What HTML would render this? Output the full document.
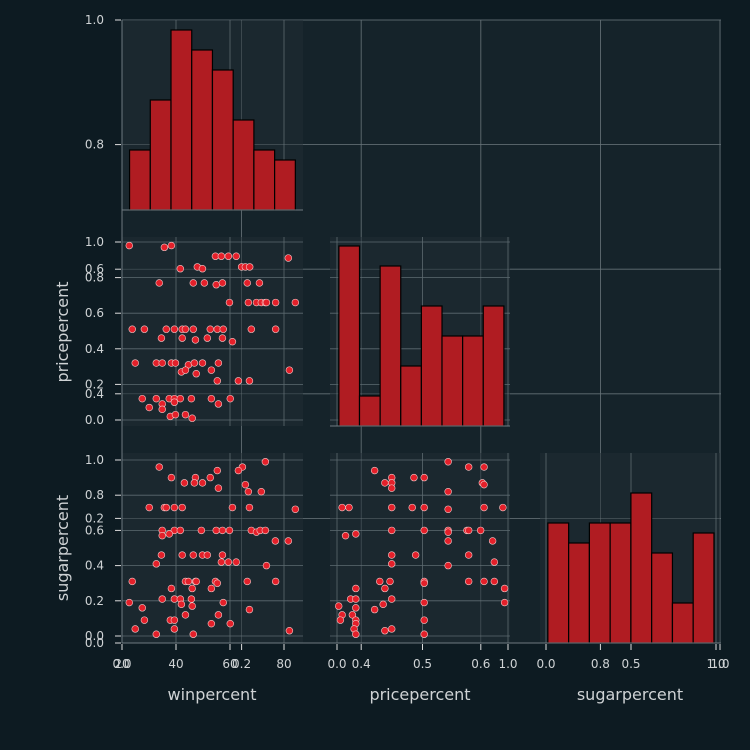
<!DOCTYPE html>
<html><head><meta charset="utf-8"><style>
body{margin:0;background:#0d1b22;}
svg{display:block;font-family:"DejaVu Sans","Liberation Sans",sans-serif;}
</style></head><body>
<svg id="c" width="750" height="750" xmlns="http://www.w3.org/2000/svg"></svg>
<script>
// ---- data ----
const histWinCounts=[6,11,18,16,14,9,6,5];
const histWinRange=[22.8,84.2];
const histPriceCounts=[18,3,16,6,12,9,9,12];
const histPriceRange=[0.011,0.976];
const histSugarCounts=[12,10,12,12,15,9,4,11];
const histSugarRange=[0.011,0.988];

const s10Win=[22.7,35.7,38.3,54.6,56.8,59.4,62.3,81.6,41.6,47.9,49.8,64.3,65.7,67.3,33.8,46.4,50.5,54.9,57.2,66.4,70.9,59.8,66.8,69.8,71.6,73.1,73.5,76.9,84.2,23.8,28.3,36.4,39.4,42.3,43.5,46.4,52.7,55.3,57.5,67.9,76.9,34.6,42.3,47.2,51.6,57.2,60.9,24.9,32.7,34.9,38.3,39.8,44.6,46.8,49.8,55.7,42.0,43.5,47.5,53.1,82.0,55.3,63.1,67.2,27.5,32.7,34.9,34.9,30.1,37.5,39.4,39.4,41.6,45.7,53.1,55.7,60.1,37.9,39.8,43.5,46.0];
const s10Price=[0.98,0.97,0.98,0.92,0.92,0.92,0.92,0.91,0.85,0.86,0.85,0.86,0.86,0.86,0.77,0.77,0.77,0.76,0.77,0.77,0.77,0.66,0.66,0.66,0.66,0.66,0.66,0.66,0.66,0.51,0.51,0.51,0.51,0.51,0.51,0.51,0.51,0.51,0.51,0.51,0.51,0.46,0.46,0.45,0.46,0.46,0.44,0.32,0.32,0.32,0.32,0.32,0.31,0.32,0.32,0.32,0.27,0.28,0.26,0.28,0.28,0.22,0.22,0.22,0.12,0.12,0.09,0.06,0.07,0.12,0.12,0.10,0.12,0.12,0.12,0.09,0.12,0.02,0.03,0.03,0.01];

const s20Win=[33.8,73.1,64.6,63.1,55.3,38.3,47.2,52.7,43.1,46.8,49.8,55.7,65.7,66.8,71.6,30.1,35.7,36.4,39.4,42.3,60.9,67.2,84.2,34.9,39.4,41.6,49.4,54.9,57.2,59.8,67.9,69.8,71.2,73.1,34.9,37.5,76.8,81.6,34.6,42.3,46.4,49.8,51.6,57.2,56.8,59.4,62.3,32.7,73.5,23.8,38.3,43.5,44.6,47.2,47.5,54.6,55.3,66.4,76.9,46.0,53.1,34.9,39.4,41.6,45.7,42.0,46.0,22.7,27.5,57.5,28.3,37.9,39.4,43.5,55.7,67.2,24.9,39.4,53.1,60.1,32.7,46.4,82.0];
const s20Sugar=[0.96,0.99,0.96,0.94,0.94,0.90,0.90,0.90,0.87,0.87,0.87,0.84,0.86,0.82,0.82,0.73,0.73,0.73,0.73,0.73,0.73,0.73,0.72,0.60,0.60,0.60,0.60,0.60,0.60,0.60,0.60,0.59,0.60,0.60,0.57,0.58,0.54,0.54,0.46,0.46,0.46,0.46,0.46,0.46,0.42,0.42,0.42,0.41,0.40,0.31,0.27,0.31,0.31,0.31,0.31,0.31,0.30,0.31,0.31,0.27,0.27,0.21,0.21,0.21,0.21,0.18,0.17,0.19,0.16,0.19,0.09,0.09,0.09,0.12,0.12,0.15,0.04,0.04,0.07,0.07,0.01,0.01,0.03];

const s21Price=[0.65,0.77,0.86,0.22,0.32,0.45,0.51,0.28,0.32,0.32,0.85,0.86,0.65,0.03,0.07,0.32,0.44,0.51,0.65,0.86,0.97,0.32,0.51,0.65,0.65,0.76,0.77,0.84,0.05,0.11,0.65,0.91,0.32,0.46,0.77,0.32,0.65,0.92,0.25,0.31,0.51,0.51,0.77,0.86,0.92,0.11,0.28,0.98,0.08,0.11,0.32,0.01,0.11,0.27,0.51,0.98,0.03,0.09,0.22,0.02,0.11,0.11,0.10,0.28,0.32,0.11,0.51,0.51];
const s21Sugar=[0.99,0.96,0.96,0.94,0.90,0.90,0.90,0.87,0.87,0.84,0.87,0.86,0.82,0.73,0.73,0.73,0.73,0.73,0.72,0.73,0.73,0.60,0.60,0.60,0.59,0.60,0.60,0.60,0.57,0.58,0.54,0.54,0.46,0.46,0.46,0.41,0.40,0.42,0.31,0.31,0.31,0.30,0.31,0.31,0.31,0.27,0.27,0.27,0.21,0.21,0.21,0.17,0.16,0.18,0.19,0.19,0.12,0.12,0.15,0.09,0.09,0.07,0.04,0.03,0.04,0.01,0.09,0.01];

const bgTicks=["0.0","0.2","0.4","0.6","0.8","1.0"];
const winTicks=[20,40,60,80];
const unitTicks=[0.0,0.2,0.4,0.6,0.8,1.0];
const xUnitTicks=[0.0,0.5,1.0];

// ---- drawing ----
const svg=document.getElementById('c');
const NS='http://www.w3.org/2000/svg';
function mk(tag,attrs,parent){const e=document.createElementNS(NS,tag);for(const k in attrs)e.setAttribute(k,attrs[k]);(parent||svg).appendChild(e);return e;}
const GRID='#5d6a70',TXT='#cfd3d5';

const winX=v=>122+(v-20)*2.7;
const priceX=v=>337+v*171;
const sugarX=v=>546+v*170;
const priceY=v=>420-v*178;
const sugarY=v=>636-v*176;
const bgX=v=>122+v*598;
const bgY=v=>643-v*623;

const bg=mk('rect',{x:122,y:20,width:599,height:623,fill:'#15232a'});


bgTicks.forEach((t,i)=>{
  const v=i/5;
  const gx=mk('line',{x1:bgX(v),x2:bgX(v),y1:20,y2:643,stroke:GRID,'stroke-width':0.8});
  
  
  const gy=mk('line',{x1:122,x2:721,y1:bgY(v),y2:bgY(v),stroke:GRID,'stroke-width':0.8});
  
  
});

const cols=[[122,303],[330,510],[540,720]];
const rows=[[20,210],[237,426],[453,643]];
function panel(c,r,name){
  const p=mk('rect',{x:cols[c][0],y:rows[r][0],width:cols[c][1]-cols[c][0],height:rows[r][1]-rows[r][0],fill:'#1b282f'});
  
  
}
panel(0,0,'hist-winpercent-axes');panel(0,1,'scatter-win-price-axes');panel(0,2,'scatter-win-sugar-axes');
panel(1,1,'hist-pricepercent-axes');panel(1,2,'scatter-price-sugar-axes');panel(2,2,'hist-sugarpercent-axes');

function vgrid(xs,r){xs.forEach(x=>{const l=mk('line',{x1:x,x2:x,y1:rows[r][0],y2:rows[r][1],stroke:GRID,'stroke-width':0.8});});}
function hgrid(ys,c){ys.forEach(y=>{const l=mk('line',{x1:cols[c][0],x2:cols[c][1],y1:y,y2:y,stroke:GRID,'stroke-width':0.8});});}
for(let r=0;r<3;r++)vgrid(winTicks.map(winX),r);
vgrid(xUnitTicks.map(priceX),1);vgrid(xUnitTicks.map(priceX),2);
vgrid(xUnitTicks.map(sugarX),2);
hgrid(unitTicks.map(priceY),0);hgrid(unitTicks.map(priceY),1);
hgrid(unitTicks.map(sugarY),0);hgrid(unitTicks.map(sugarY),1);
bgTicks.forEach((t,i)=>{const v=i/5;
  const l=mk('line',{x1:122,x2:721,y1:bgY(v),y2:bgY(v),stroke:'#6a767b','stroke-width':0.7,opacity:0.6});
  
  const l2=mk('line',{x1:bgX(v),x2:bgX(v),y1:20,y2:643,stroke:'#6a767b','stroke-width':0.7,opacity:0.6});
  
});

function hist(counts,range,xs,bottom,name){
  const w=(xs(range[1])-xs(range[0]))/counts.length;
  counts.forEach((n,i)=>{
    const b=mk('rect',{x:xs(range[0])+i*w,y:bottom-n*10,width:w,height:n*10,fill:'#b01c22',stroke:'#000','stroke-width':1.2});
    
    
  });
}
hist(histWinCounts,histWinRange,winX,210,'hist-win');
hist(histPriceCounts,histPriceRange,priceX,426,'hist-price');
hist(histSugarCounts,histSugarRange,sugarX,643,'hist-sugar');

function scatter(xa,ya,fx,fy,name){
  const n=Math.min(xa.length,ya.length);
  for(let i=0;i<n;i++){
    const p=mk('circle',{cx:fx(xa[i]),cy:fy(ya[i]),r:3.4,fill:'#e4202a',stroke:'#f3c9c9','stroke-width':0.6});
    
    
  }
}
scatter(s10Win,s10Price,winX,priceY,'win-price');
scatter(s20Win,s20Sugar,winX,sugarY,'win-sugar');
scatter(s21Price,s21Sugar,priceX,sugarY,'price-sugar');

function spine(x1,y1,x2,y2){const l=mk('line',{x1,y1,x2,y2,stroke:'#6e7a80','stroke-width':1});}
spine(122,20,122,643);spine(122,643,721,643);
spine(122,210,303,210);spine(330,426,510,426);

function txt(x,y,s,anchor,name,size){const t=mk('text',{x,y,'text-anchor':anchor,fill:TXT,'font-size':size||12});t.textContent=s;return t;}
function tickY(y){const l=mk('line',{x1:115,x2:121,y1:y,y2:y,stroke:'#ddd','stroke-width':1});}
function tickX(x){const l=mk('line',{x1:x,x2:x,y1:644,y2:650,stroke:'#ddd','stroke-width':1});}
bgTicks.forEach((t,i)=>{tickY(bgY(i/5));txt(104,bgY(i/5)+4,t,'end','bg-y-tick-label');});
unitTicks.forEach(v=>{tickY(priceY(v));txt(104,priceY(v)+4,v.toFixed(1),'end','price-y-tick-label');});
unitTicks.forEach(v=>{tickY(sugarY(v));txt(104,sugarY(v)+4,v.toFixed(1),'end','sugar-y-tick-label');});
bgTicks.forEach((t,i)=>{tickX(bgX(i/5));txt(bgX(i/5),668,t,'middle','bg-x-tick-label');});
winTicks.forEach(v=>{tickX(winX(v));txt(winX(v),668,String(v),'middle','win-x-tick-label');});
xUnitTicks.forEach(v=>{tickX(priceX(v));txt(priceX(v),668,v.toFixed(1),'middle','price-x-tick-label');});
xUnitTicks.forEach(v=>{tickX(sugarX(v));txt(sugarX(v),668,v.toFixed(1),'middle','sugar-x-tick-label');});

txt(212,700,'winpercent','middle','x-axis-title-winpercent',16);
txt(420,700,'pricepercent','middle','x-axis-title-pricepercent',16);
txt(630,700,'sugarpercent','middle','x-axis-title-sugarpercent',16);
const yt1=txt(0,0,'pricepercent','middle','y-axis-title-pricepercent',16);yt1.setAttribute('transform','translate(68,332) rotate(-90)');
const yt2=txt(0,0,'sugarpercent','middle','y-axis-title-sugarpercent',16);yt2.setAttribute('transform','translate(68,548) rotate(-90)');
</script>
</body></html>
